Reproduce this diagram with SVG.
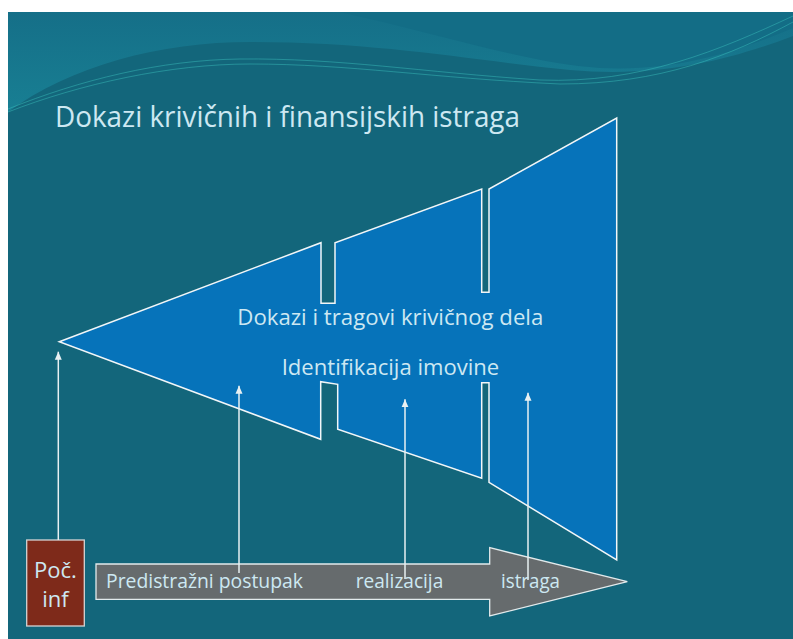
<svg xmlns="http://www.w3.org/2000/svg" width="793" height="639" viewBox="0 0 793 639">
<style>
.lbl{font-family:"Open Sans","Liberation Sans",sans-serif;fill:#CDE8F2}
.conn{stroke:#E8F0F2;stroke-width:1.5;fill:none}
.wave{fill:none;stroke:#3CC4BE;stroke-width:1;opacity:0.45}
</style>
<defs>
<linearGradient id="topg" x1="0" y1="0" x2="0" y2="1">
<stop offset="0" stop-color="#156F88"/>
<stop offset="1" stop-color="#187F93"/>
</linearGradient>
<marker id="ah" markerWidth="8" markerHeight="8" viewBox="0 0 8 8" refX="8" refY="4" orient="auto" markerUnits="userSpaceOnUse">
<path d="M0,0.5 L8,4 L0,7.5 Z" fill="#E8F0F2"/>
</marker>
</defs>
<g id="background">
<rect x="0" y="0" width="793" height="639" fill="#FFFFFF"/>
<rect x="8" y="12" width="785" height="627" fill="#13667B"/>
<path d="M8,112 C70,66 160,42 250,42 C380,42 470,60 570,70 C660,78 730,60 793,36 L793,12 L8,12 Z" fill="url(#topg)"/>
<path d="M340,12 C440,34 530,64 600,68 C680,72 740,50 793,28 L793,12 Z" fill="#136D86"/>
<path d="M8,109 C80,80 160,60 240,59 C340,58 420,72 540,80 C640,84 720,50 793,16" class="wave"/>
<path d="M8,112 C80,84 170,64 250,64 C350,64 430,78 560,84 C660,84 730,56 793,22" class="wave" opacity="0.2"/>
</g>
<text id="title" class="lbl" x="55" y="127" font-size="29" textLength="465" lengthAdjust="spacingAndGlyphs">Dokazi krivičnih i finansijskih istraga</text>
<g id="funnel">
<path d="M59.3,341.7 L321,242.7 L321,303.3 L335,303.3 L335,242.7 L481.7,189 L481.7,292.3 L489,292.3 L489,189 L616.7,118 L616.7,560 L489,482.3 L489,382.7 L481.7,382.7 L481.7,478.3 L337.7,429.3 L337.7,384.3 L320.7,381.7 L320.7,439.3 Z" fill="#0673BA" stroke="#F2F6F8" stroke-width="1.5" stroke-linejoin="miter"/>
<text class="lbl" x="237.3" y="325" font-size="21" textLength="306" lengthAdjust="spacingAndGlyphs">Dokazi i tragovi krivičnog dela</text>
<text class="lbl" x="281.7" y="375" font-size="21" textLength="217.6" lengthAdjust="spacingAndGlyphs">Identifikacija imovine</text>
</g>
<g id="timeline">
<path d="M96,564 L489.7,564 L489.7,547.7 L627.3,581.7 L489.7,616 L489.7,599.3 L96,599.3 Z" fill="#666B6D" stroke="#E2EAEC" stroke-width="1.3"/>
</g>
<g id="poc">
<rect x="26.7" y="540" width="57.6" height="86" fill="#7E2A1A" stroke="#D4D4D4" stroke-width="1.3"/>
<text class="lbl" x="55.5" y="578" font-size="22" text-anchor="middle">Poč.</text>
<text class="lbl" x="55.5" y="607" font-size="22" text-anchor="middle">inf</text>
</g>
<g id="connectors">
<line class="conn" x1="58.3" y1="540" x2="58.3" y2="351.7" marker-end="url(#ah)"/>
<line class="conn" x1="239" y1="573" x2="239" y2="385.7" marker-end="url(#ah)"/>
<line class="conn" x1="405" y1="579" x2="405" y2="399.3" marker-end="url(#ah)"/>
<line class="conn" x1="528" y1="580" x2="528" y2="392.7" marker-end="url(#ah)"/>
</g>
<g id="timeline-labels">
<text class="lbl" x="106" y="588.3" font-size="20" textLength="197" lengthAdjust="spacingAndGlyphs">Predistražni postupak</text>
<text class="lbl" x="355.7" y="588.3" font-size="20" textLength="87.6" lengthAdjust="spacingAndGlyphs">realizacija</text>
<text class="lbl" x="501" y="588.3" font-size="20" textLength="59" lengthAdjust="spacingAndGlyphs">istraga</text>
</g>
</svg>
